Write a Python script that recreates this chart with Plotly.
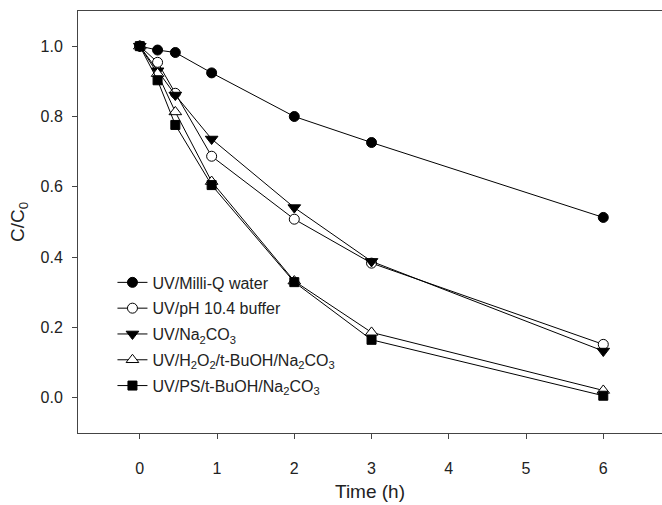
import plotly.graph_objects as go

time_h = [0, 0.23, 0.46, 0.93, 2, 3, 6]
milliq = [1.0, 0.989, 0.982, 0.924, 0.800, 0.726, 0.513]
ph_buffer = [1.0, 0.954, 0.866, 0.687, 0.508, 0.383, 0.152]
na2co3 = [1.0, 0.930, 0.861, 0.736, 0.541, 0.388, 0.133]
h2o2 = [1.0, 0.922, 0.813, 0.615, 0.332, 0.186, 0.021]
ps = [1.0, 0.903, 0.776, 0.605, 0.329, 0.165, 0.006]

series_names = [
    "UV/Milli-Q water",
    "UV/pH 10.4 buffer",
    "UV/Na<sub>2</sub>CO<sub>3</sub>",
    "UV/H<sub>2</sub>O<sub>2</sub>/t-BuOH/Na<sub>2</sub>CO<sub>3</sub>",
    "UV/PS/t-BuOH/Na<sub>2</sub>CO<sub>3</sub>",
]
series_values = [milliq, ph_buffer, na2co3, h2o2, ps]
symbols = ["circle", "circle", "triangle-down", "triangle-up", "square"]
fills = ["black", "white", "black", "white", "black"]
sizes = [10, 10, 11, 11, 9]

x_ticks = [0, 1, 2, 3, 4, 5, 6]
y_ticks = [0.0, 0.2, 0.4, 0.6, 0.8, 1.0]
y_tick_labels = ["0.0", "0.2", "0.4", "0.6", "0.8", "1.0"]

fig = go.Figure()
for i, (name, vals, sym, fc, sz) in enumerate(zip(series_names, series_values, symbols, fills, sizes)):
    fig.add_trace(go.Scatter(
        x=time_h, y=vals, name=name, mode="lines+markers", legendgroup=f"g{i}",
        line=dict(color="black", width=1),
        marker=dict(symbol=sym, size=sz, color=fc, line=dict(color="black", width=1)),
    ))

font_family = "Liberation Sans, Arial, sans-serif"
fig.update_layout(
    width=662, height=505,
    margin=dict(l=78, r=0, t=11, b=72),
    paper_bgcolor="white", plot_bgcolor="white",
    font=dict(family=font_family, size=16, color="#222"),
    showlegend=True,
    legend=dict(x=0.059, y=0.397, xanchor="left", yanchor="top",
                bgcolor="rgba(0,0,0,0)", font=dict(size=16, color="#222"),
                tracegroupgap=2),
    xaxis=dict(
        range=[-0.8, 6.76], tickvals=x_ticks, ticks="outside", ticklen=5,
        tickcolor="#444", showline=True, linecolor="#444", linewidth=1,
        mirror=True, showgrid=False, zeroline=False, ticklabelstandoff=16,
        title=dict(text="Time (h)", standoff=8),
    ),
    yaxis=dict(
        range=[-0.1, 1.1], tickvals=y_ticks, ticktext=y_tick_labels,
        ticks="outside", ticklen=5, tickcolor="#444", showline=True,
        linecolor="#444", linewidth=1, showgrid=False, zeroline=False,
        ticklabelstandoff=6,
        title=dict(text="C/C<sub>0</sub>", standoff=10),
    ),
)

fig.write_html("out.html")
